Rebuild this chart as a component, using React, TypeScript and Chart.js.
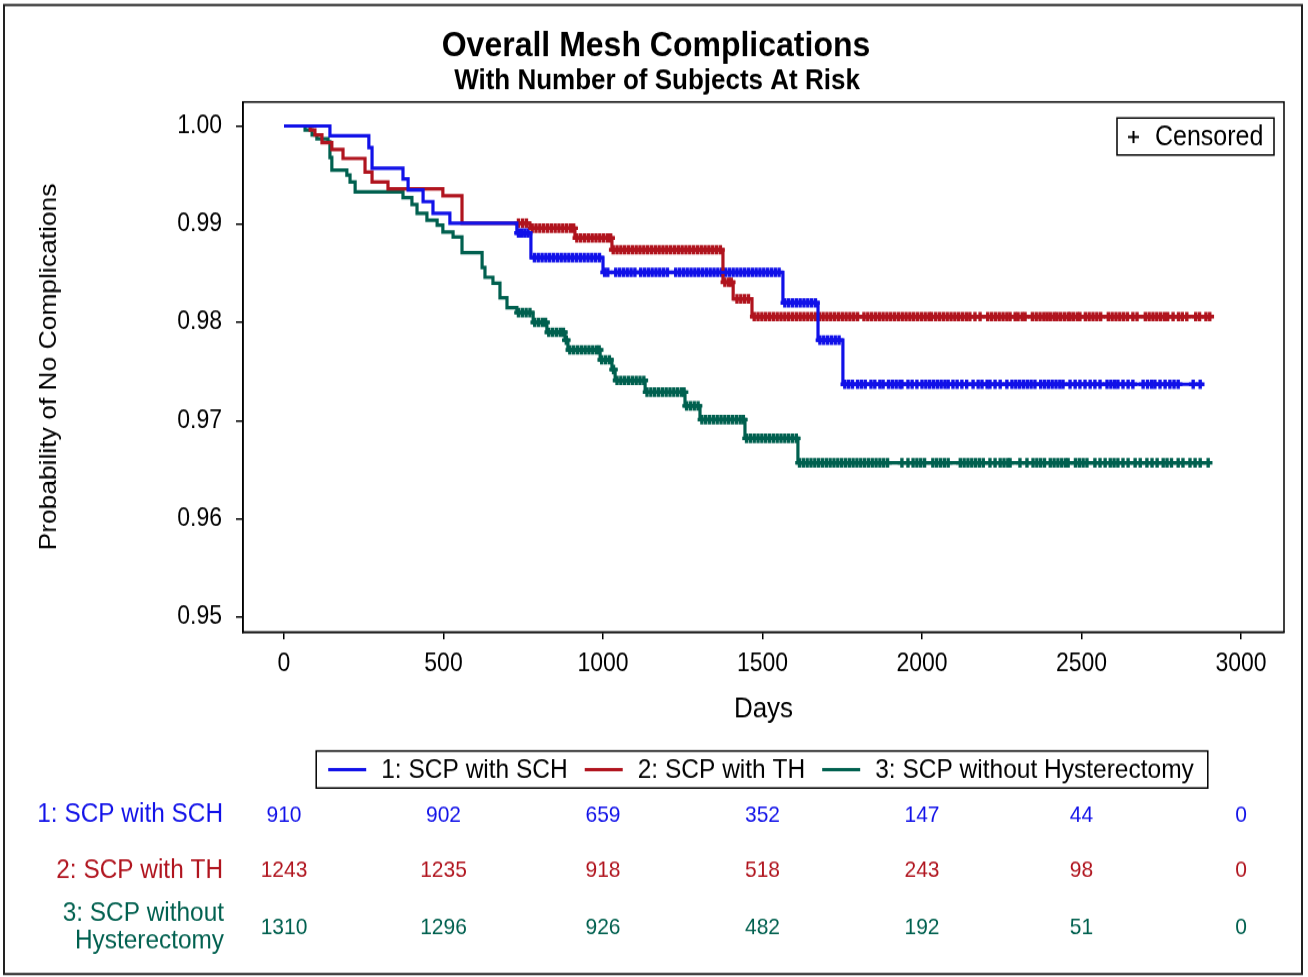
import React, { useEffect, useRef } from "react";
import { Chart, registerables } from "chart.js";

Chart.register(...registerables);

const FONT = '"Liberation Sans", Arial, Helvetica, sans-serif';

// The reference drawing is slightly stretched vertically; the canvas is rendered
// at a reduced height and displayed at full height to match.
const PAGE_W = 1308;
const PAGE_H = 977;
const CANVAS_H = 888;
const S = PAGE_H / CANVAS_H;
const Y = (v: number) => v / S;

const titleText = "Overall Mesh Complications";
const subtitleText = "With Number of Subjects At Risk";
const xAxisTitle = "Days";
const yAxisTitle = "Probability of No Complications";
const censorLegendText = "Censored";

const groupLabels = ["1: SCP with SCH", "2: SCP with TH", "3: SCP without Hysterectomy"];
const groupRowLabels = [["1: SCP with SCH"], ["2: SCP with TH"], ["3: SCP without", "Hysterectomy"]];
const groupColors = ["#1111e8", "#b0141e", "#00604f"];

// Kaplan-Meier step curves (day of event, survival after event)
const schDays = [0, 144, 266, 276, 373, 389, 436, 467, 520, 730, 774, 1000, 1564, 1674, 1752, 2881];
const schSurv = [1.0, 0.999, 0.9978, 0.9957, 0.9946, 0.9935, 0.9923, 0.9911, 0.9901, 0.9891, 0.9866, 0.9851, 0.982, 0.9782, 0.9737, 0.9737];

const thDays = [0, 82, 97, 119, 150, 185, 254, 276, 326, 498, 558, 771, 912, 1028, 1376, 1408, 1467, 2908];
const thSurv = [1.0, 0.9996, 0.9991, 0.9983, 0.9976, 0.9967, 0.9953, 0.9943, 0.9936, 0.9929, 0.9901, 0.9896, 0.9886, 0.9874, 0.9841, 0.9824, 0.9806, 0.9806];

const noHystDays = [0, 66, 88, 103, 138, 144, 150, 197, 207, 223, 373, 401, 417, 448, 480, 498, 530, 558, 621, 630, 655, 677, 699, 730, 781, 824, 881, 890, 991, 1028, 1038, 1132, 1257, 1304, 1445, 1611, 2903];
const noHystSurv = [1.0, 0.9996, 0.9991, 0.9987, 0.9984, 0.9968, 0.9955, 0.995, 0.9943, 0.9933, 0.9927, 0.992, 0.9911, 0.9904, 0.9899, 0.9892, 0.9887, 0.9871, 0.9856, 0.9846, 0.984, 0.9825, 0.9815, 0.981, 0.98, 0.979, 0.9782, 0.9772, 0.9762, 0.9752, 0.9741, 0.9729, 0.9715, 0.9701, 0.9682, 0.9657, 0.9657];

// Censoring times (days)
const schCensor = [
  735, 745, 755, 765,
  785, 797, 809, 821, 833, 845, 857, 869, 881, 893, 905, 917, 929, 941, 953, 965, 977, 989,
  1005, 1015, 1040, 1052, 1064, 1076, 1088, 1100, 1118, 1130, 1142, 1154, 1166, 1178, 1190, 1202,
  1228, 1240, 1252, 1264, 1276, 1288, 1300, 1312, 1324, 1336, 1348, 1360, 1372, 1384, 1396, 1408,
  1420, 1432, 1444, 1456, 1468, 1480, 1492, 1504, 1516, 1528, 1540, 1552,
  1570, 1582, 1594, 1606, 1618, 1630, 1642, 1654, 1666,
  1680, 1692, 1704, 1716, 1728, 1740,
  1758, 1770, 1782, 1798, 1810, 1822, 1840, 1852, 1868, 1878, 1895, 1907, 1919, 1931, 1937,
  1956, 1969, 1984, 2000, 2012, 2024, 2036, 2048, 2060, 2072, 2082, 2097, 2110, 2125, 2140,
  2160, 2176, 2188, 2204, 2213, 2229, 2245, 2266, 2282, 2294, 2306, 2318, 2330, 2342, 2354,
  2372, 2384, 2396, 2408, 2420, 2432, 2442, 2464, 2480, 2495, 2511, 2527, 2542, 2558,
  2580, 2592, 2604, 2614, 2630, 2646, 2661, 2693, 2707, 2720, 2730, 2746, 2762,
  2777, 2790, 2803, 2850, 2872,
];
const thCensor = [
  735, 748, 760,
  778, 790, 802, 814, 826, 838, 850, 862, 874, 886, 898, 908,
  918, 930, 942, 954, 966, 978, 990, 1002, 1014, 1024,
  1032, 1044, 1056, 1068, 1080, 1092, 1104, 1116, 1128, 1140, 1152, 1164, 1176, 1188, 1200,
  1212, 1224, 1236, 1248, 1260, 1272, 1284, 1296, 1308, 1320, 1332, 1344, 1356, 1368,
  1382, 1394, 1402, 1420, 1432, 1444, 1456,
  1474, 1486, 1498, 1510, 1522, 1534, 1546, 1558, 1570, 1582, 1594, 1606, 1618, 1630,
  1642, 1654, 1666, 1678, 1690, 1702, 1714, 1726, 1738, 1750, 1762, 1774, 1786, 1798,
  1818, 1830, 1842, 1854, 1866, 1878, 1890, 1902, 1914, 1926, 1938,
  1950, 1962, 1974, 1986, 1998, 2010, 2022, 2030,
  2043, 2055, 2067, 2079, 2091, 2103, 2115, 2127, 2139, 2150, 2166, 2182,
  2206, 2218, 2230, 2242, 2254, 2266, 2276, 2292, 2301, 2314, 2323,
  2346, 2358, 2370, 2382, 2392, 2402, 2414, 2423, 2434, 2446, 2458, 2464, 2475, 2487, 2495,
  2512, 2524, 2536, 2548, 2560, 2584, 2596, 2608, 2620, 2632, 2644, 2661, 2674,
  2700, 2712, 2724, 2736, 2748, 2760, 2770, 2787, 2804, 2816, 2830, 2858, 2870, 2890, 2902,
];
const noHystCensor = [
  735, 747, 759, 771, 786, 798, 810, 820, 830, 842, 854, 866, 876, 885,
  896, 908, 920, 932, 944, 956, 968, 980, 988, 996, 1008, 1020, 1033,
  1044, 1056, 1068, 1080, 1092, 1104, 1116, 1128,
  1138, 1150, 1162, 1174, 1186, 1198, 1210, 1222, 1234, 1246, 1254,
  1262, 1274, 1286, 1298,
  1310, 1322, 1334, 1346, 1358, 1370, 1382, 1394, 1406, 1418, 1430, 1440,
  1450, 1462, 1474, 1486, 1498, 1510, 1522, 1534, 1546, 1558, 1570, 1582, 1594, 1606,
  1616, 1628, 1640, 1652, 1664, 1676, 1688, 1700, 1712, 1724, 1736, 1748, 1760, 1772,
  1784, 1796, 1808, 1820, 1832, 1844, 1856, 1868, 1880, 1892, 1937, 1956,
  1972, 1984, 1996, 2008, 2034, 2046, 2058, 2070, 2082,
  2120, 2132, 2144, 2156, 2168, 2180, 2192, 2213, 2229, 2245, 2257, 2269, 2276,
  2307, 2329, 2348, 2360, 2372, 2384, 2402, 2414, 2426, 2438, 2450, 2458,
  2481, 2493, 2505, 2517, 2542, 2558, 2574, 2590, 2602, 2614, 2630, 2646,
  2668, 2684, 2705, 2721, 2737, 2756, 2768, 2782, 2803, 2818, 2840, 2856, 2872, 2897,
];

const xTickValues = [0, 500, 1000, 1500, 2000, 2500, 3000];
const yTickValues = [0.95, 0.96, 0.97, 0.98, 0.99, 1.0];

const atRiskTimes = [0, 500, 1000, 1500, 2000, 2500, 3000];
const atRiskSch = [910, 902, 659, 352, 147, 44, 0];
const atRiskTh = [1243, 1235, 918, 518, 243, 98, 0];
const atRiskNoHyst = [1310, 1296, 926, 482, 192, 51, 0];

function stepValue(days: number[], surv: number[], t: number): number {
  let v = surv[0];
  for (let i = 0; i < days.length; i++) {
    if (days[i] <= t) v = surv[i];
    else break;
  }
  return v;
}

const curveSets = [
  { days: schDays, surv: schSurv, censor: schCensor, atRisk: atRiskSch },
  { days: thDays, surv: thSurv, censor: thCensor, atRisk: atRiskTh },
  { days: noHystDays, surv: noHystSurv, censor: noHystCensor, atRisk: atRiskNoHyst },
];

const decorPlugin = {
  id: "decor",
  afterDraw(chart: any) {
    const ctx: CanvasRenderingContext2D = chart.ctx;
    const { left, top, right, bottom } = chart.chartArea;
    const xs = chart.scales.x;
    ctx.save();

    // outer frame
    ctx.strokeStyle = "#222";
    ctx.lineWidth = 2;
    ctx.strokeRect(4, Y(5), 1298, Y(969));

    // plot frame
    ctx.strokeStyle = "#000";
    ctx.lineWidth = 1.5;
    ctx.strokeRect(left, top, right - left, bottom - top);

    // titles
    ctx.fillStyle = "#000";
    ctx.textAlign = "center";
    ctx.textBaseline = "middle";
    ctx.font = `bold 32px ${FONT}`;
    ctx.fillText(titleText, 656, Y(46));
    ctx.font = `bold 26px ${FONT}`;
    ctx.fillText(subtitleText, 657, Y(81));

    // censored legend (inset)
    ctx.lineWidth = 1.5;
    ctx.strokeStyle = "#000";
    ctx.strokeRect(1117, Y(118), 157, Y(37));
    ctx.lineWidth = 2;
    ctx.beginPath();
    ctx.moveTo(1128, Y(137));
    ctx.lineTo(1139, Y(137));
    ctx.moveTo(1133.5, Y(131));
    ctx.lineTo(1133.5, Y(143));
    ctx.stroke();
    ctx.textAlign = "left";
    ctx.font = `25px ${FONT}`;
    ctx.fillText(censorLegendText, 1155, Y(137.5));

    // bottom legend
    ctx.font = `24.5px ${FONT}`;
    const lineLen = 38;
    const gapLineText = 15;
    const gapItems = 17;
    const padL = 12;
    const padR = 14;
    const widths = groupLabels.map((t) => ctx.measureText(t).width);
    let total = padL + padR;
    widths.forEach((w, i) => {
      total += lineLen + gapLineText + w + (i < widths.length - 1 ? gapItems : 0);
    });
    const boxL = 762 - total / 2;
    const boxT = Y(751);
    const boxH = Y(37);
    ctx.lineWidth = 1.5;
    ctx.strokeStyle = "#000";
    ctx.strokeRect(boxL, boxT, total, boxH);
    let cx = boxL + padL;
    const ly = boxT + boxH / 2;
    groupLabels.forEach((t, i) => {
      ctx.strokeStyle = groupColors[i];
      ctx.lineWidth = 3;
      ctx.beginPath();
      ctx.moveTo(cx, ly);
      ctx.lineTo(cx + lineLen, ly);
      ctx.stroke();
      cx += lineLen + gapLineText;
      ctx.fillStyle = "#000";
      ctx.textAlign = "left";
      ctx.fillText(t, cx, ly + 1);
      cx += widths[i] + gapItems;
    });

    // at-risk table
    const rowY = [815, 871, 928];
    curveSets.forEach((cs, gi) => {
      ctx.fillStyle = groupColors[gi];
      ctx.font = `24.4px ${FONT}`;
      ctx.textAlign = "right";
      const lines = groupRowLabels[gi];
      if (lines.length === 1) {
        ctx.fillText(lines[0], 223, Y(rowY[gi]));
      } else {
        ctx.fillText(lines[0], 224, Y(rowY[gi] - 14));
        ctx.fillText(lines[1], 224, Y(rowY[gi] + 13));
      }
      ctx.font = `21px ${FONT}`;
      ctx.textAlign = "center";
      cs.atRisk.forEach((n, k) => {
        ctx.fillText(String(n), xs.getPixelForValue(atRiskTimes[k]), Y(rowY[gi]));
      });
    });

    ctx.restore();
  },
};

export default function App() {
  const canvasRef = useRef<HTMLCanvasElement | null>(null);

  useEffect(() => {
    const canvas = canvasRef.current;
    if (!canvas) return;

    const lineSets = curveSets.map((cs, i) => ({
      type: "line" as const,
      label: groupLabels[i],
      data: cs.days.map((d, k) => ({ x: d, y: cs.surv[k] })),
      borderColor: groupColors[i],
      backgroundColor: groupColors[i],
      borderWidth: 3.2,
      stepped: true,
      pointRadius: 0,
      fill: false,
      tension: 0,
    }));
    const censorSets = curveSets.map((cs, i) => ({
      type: "scatter" as const,
      label: groupLabels[i] + " censored",
      data: cs.censor.map((d) => ({ x: d, y: stepValue(cs.days, cs.surv, d) })),
      borderColor: groupColors[i],
      backgroundColor: groupColors[i],
      pointBorderColor: groupColors[i],
      pointStyle: "cross",
      pointRadius: 4.3,
      pointBorderWidth: 3.4,
      showLine: false,
    }));

    const chartTop = Y(102);
    const chartBottom = Y(632);
    const xAxisH = Y(110);

    const chart = new Chart(canvas, {
      type: "line",
      data: { datasets: [...lineSets, ...censorSets] as any },
      options: {
        responsive: false,
        animation: false,
        devicePixelRatio: 1,
        events: [],
        layout: {
          padding: { top: chartTop, left: 0, right: 24, bottom: CANVAS_H - chartBottom - xAxisH },
        },
        plugins: {
          legend: { display: false },
          title: { display: false },
          tooltip: { enabled: false },
        },
        scales: {
          x: {
            type: "linear",
            min: -128.5,
            max: 3134.7,
            afterBuildTicks: (scale: any) => {
              scale.ticks = xTickValues.map((v) => ({ value: v }));
            },
            afterFit: (scale: any) => {
              scale.height = xAxisH;
            },
            ticks: {
              color: "#000",
              font: { family: FONT, size: 23 },
              padding: 9,
              maxRotation: 0,
              autoSkip: false,
              callback: (v: any) => String(v),
            },
            grid: {
              display: true,
              drawOnChartArea: false,
              drawTicks: true,
              tickLength: 6.5,
              color: "#000",
              lineWidth: 1.5,
            },
            border: { display: true, color: "#000", width: 1.5 },
            title: {
              display: true,
              text: xAxisTitle,
              color: "#000",
              font: { family: FONT, size: 26 },
              padding: { top: 0, bottom: 14 },
            },
          },
          y: {
            type: "linear",
            min: 0.948473,
            max: 1.002444,
            afterBuildTicks: (scale: any) => {
              scale.ticks = yTickValues.map((v) => ({ value: v }));
            },
            afterFit: (scale: any) => {
              scale.width = 243;
            },
            ticks: {
              color: "#000",
              font: { family: FONT, size: 23 },
              padding: 14,
              autoSkip: false,
              callback: (v: any) => Number(v).toFixed(2),
            },
            grid: {
              display: true,
              drawOnChartArea: false,
              drawTicks: true,
              tickLength: 7,
              color: "#000",
              lineWidth: 1.5,
            },
            border: { display: true, color: "#000", width: 1.5 },
            title: {
              display: true,
              text: yAxisTitle,
              color: "#000",
              font: { family: FONT, size: 24 },
              padding: { top: 35, bottom: 0 },
            },
          },
        },
      },
      plugins: [decorPlugin],
    } as any);

    return () => chart.destroy();
  }, []);

  return (
    <div style={{ position: "absolute", left: 0, top: 0, width: PAGE_W, height: PAGE_H, background: "#fff" }}>
      <canvas
        ref={canvasRef}
        width={PAGE_W}
        height={CANVAS_H}
        style={{ display: "block", width: PAGE_W, height: PAGE_H }}
      />
    </div>
  );
}
